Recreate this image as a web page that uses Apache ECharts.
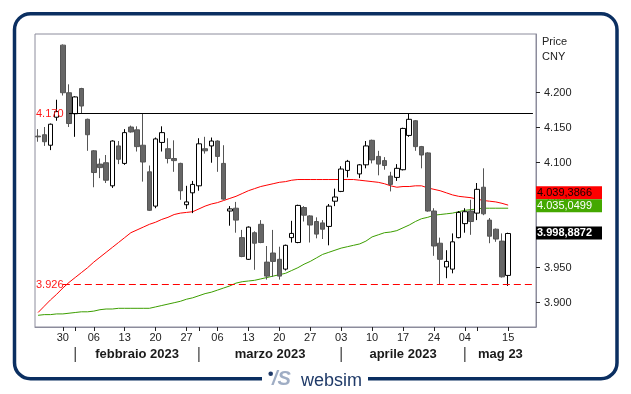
<!DOCTYPE html>
<html>
<head>
<meta charset="utf-8">
<script src="https://cdn.jsdelivr.net/npm/echarts@6/dist/echarts.min.js"></script>
<style>
html,body{margin:0;padding:0;background:#fff;}
#main{width:631px;height:394px;}
</style>
</head>
<body>
<div id="main"></div>
<script>
// ---------- DATA ----------
const dates = [
'2023-01-17','2023-01-18','2023-01-19','2023-01-20','2023-01-30','2023-01-31',
'2023-02-01','2023-02-02','2023-02-03','2023-02-06','2023-02-07','2023-02-08','2023-02-09','2023-02-10',
'2023-02-13','2023-02-14','2023-02-15','2023-02-16','2023-02-17','2023-02-20','2023-02-21','2023-02-22',
'2023-02-23','2023-02-24','2023-02-27','2023-02-28',
'2023-03-01','2023-03-02','2023-03-03','2023-03-06','2023-03-07','2023-03-08','2023-03-09','2023-03-10',
'2023-03-13','2023-03-14','2023-03-15','2023-03-16','2023-03-17','2023-03-20','2023-03-21','2023-03-22',
'2023-03-23','2023-03-24','2023-03-27','2023-03-28','2023-03-29','2023-03-30','2023-03-31',
'2023-04-03','2023-04-04','2023-04-05','2023-04-06','2023-04-07','2023-04-10','2023-04-11','2023-04-12',
'2023-04-13','2023-04-14','2023-04-17','2023-04-18','2023-04-19','2023-04-20','2023-04-21','2023-04-24',
'2023-04-25','2023-04-26','2023-04-27','2023-04-28',
'2023-05-04','2023-05-05','2023-05-08','2023-05-09','2023-05-10','2023-05-11','2023-05-12','2023-05-15',
'2023-05-16','2023-05-17','2023-05-18','2023-05-19'
];

const opens = [4.138,4.140,4.125,4.165,4.268,4.200,4.170,4.206,4.162,4.117,4.098,4.100,4.067,4.124,4.099,4.151,
4.147,4.125,4.087,4.038,4.129,4.120,4.106,4.099,4.040,4.057,4.067,4.120,4.124,4.131,4.099,4.031,
4.035,3.993,3.962,4.000,4.012,3.958,3.971,3.962,3.948,3.993,3.986,4.036,4.024,4.016,4.014,4.009,
4.045,4.059,4.089,null,4.084,4.097,4.132,4.109,4.103,4.081,4.079,4.090,4.139,4.160,4.123,4.114,
4.031,3.985,3.951,3.948,3.993,4.013,4.031,4.028,4.065,4.018,4.005,3.988,3.939];
const closes = [4.137,4.130,4.155,4.173,4.200,4.156,4.194,4.181,4.140,4.086,4.093,4.075,4.131,4.105,4.143,4.144,
4.123,4.101,4.032,4.134,4.143,4.106,4.103,4.060,4.044,4.069,4.127,4.117,4.131,4.109,4.048,4.034,
4.018,3.966,4.008,3.985,3.986,3.938,3.959,3.938,3.982,3.999,4.039,4.025,4.011,3.998,4.005,4.038,
4.051,4.091,4.102,null,4.097,4.124,4.104,4.098,4.096,4.069,4.092,4.149,4.162,4.123,4.111,4.031,
3.981,3.962,3.959,3.987,4.029,4.030,4.016,4.062,4.027,3.995,3.991,3.937,3.9989];
const lows = [4.130,4.124,4.118,4.160,4.196,4.151,4.137,4.170,4.117,4.065,4.078,4.071,4.064,4.098,4.097,4.143,
4.116,4.073,4.031,4.035,4.116,4.099,4.087,4.047,4.034,4.028,4.060,4.113,4.100,4.087,4.047,4.010,
4.000,3.965,3.961,3.947,3.985,3.933,3.937,3.933,3.946,3.986,3.985,4.016,3.986,3.992,3.991,3.982,
4.038,4.058,4.079,null,4.078,4.092,4.099,4.082,4.090,4.059,4.074,4.089,4.137,4.117,4.092,4.030,
3.967,3.926,3.935,3.942,3.992,4.000,3.997,4.018,4.025,3.985,3.987,3.936,3.924];
const highs = [4.148,4.151,4.156,4.190,4.269,4.212,4.195,4.207,4.163,4.118,4.106,4.111,4.132,4.131,4.148,4.153,
4.152,4.170,4.096,4.136,4.152,4.135,4.132,4.100,4.067,4.074,4.135,4.137,4.136,4.132,4.125,4.038,
4.044,4.004,4.009,4.002,4.018,3.981,4.004,3.980,3.983,4.017,4.040,4.038,4.025,4.022,4.018,4.041,
4.063,4.095,4.104,null,4.098,4.131,4.133,4.117,4.108,4.087,4.098,4.150,4.170,4.161,4.124,4.115,
4.035,3.993,3.975,3.999,4.031,4.035,4.047,4.071,4.092,4.021,4.006,3.999,4.000];

const maRed = [3.886,3.895,3.904,3.912,3.921,3.929,3.936,3.943,3.950,3.958,3.965,3.972,3.979,3.986,3.993,4.000,
4.004,4.008,4.012,4.015,4.019,4.022,4.026,4.028,4.029,4.030,4.034,4.038,4.041,4.043,4.046,4.049,
4.052,4.056,4.060,4.063,4.066,4.068,4.070,4.072,4.073,4.075,4.076,4.076,4.076,4.076,4.076,4.076,
4.076,4.076,4.076,4.076,4.075,4.074,4.073,4.072,4.070,4.067,4.065,4.066,4.066,4.067,4.067,4.064,
4.062,4.060,4.057,4.054,4.052,4.051,4.050,4.048,4.046,4.045,4.044,4.042,4.0394];
const maGreen = [3.882,3.883,3.883,3.884,3.884,3.885,3.886,3.887,3.887,3.888,3.890,3.891,3.891,3.892,3.892,3.892,
3.892,3.892,3.892,3.894,3.896,3.898,3.900,3.902,3.905,3.907,3.910,3.913,3.915,3.918,3.921,3.924,
3.928,3.930,3.931,3.932,3.934,3.936,3.938,3.940,3.942,3.946,3.950,3.955,3.959,3.964,3.969,3.972,
3.975,3.978,3.980,3.982,3.984,3.988,3.994,3.997,4.000,4.001,4.003,4.007,4.011,4.016,4.020,4.022,
4.025,4.026,4.027,4.028,4.030,4.032,4.033,4.034,4.035,4.035,4.035,4.035,4.0350];

const yTicks = [3.900,3.950,4.000,4.050,4.100,4.150,4.200];
const labelDays = ['2023-01-30','2023-02-06','2023-02-13','2023-02-20','2023-02-27','2023-03-06','2023-03-13',
'2023-03-20','2023-03-27','2023-04-03','2023-04-10','2023-04-17','2023-04-24','2023-05-04','2023-05-15'];
const extraTickDays = ['2023-02-01','2023-03-01','2023-05-08'];
const monthStarts = ['2023-02-01','2023-03-01','2023-04-03','2023-05-04'];
const monthLabels = ['febbraio 2023','marzo 2023','aprile 2023','mag 23'];
const resistance = 4.170;
const support = 3.926;
const boxLabels = ['4.039,3866','4.035,0499','3.998,8872'];

// ---------- CHART ----------
const FONT = '"Liberation Sans", Arial, sans-serif';
const candleData = dates.map((d, i) =>
  (i < opens.length && opens[i] != null) ? [opens[i], closes[i], lows[i], highs[i]] : '-');
const redData = dates.map((d, i) => i < maRed.length ? maRed[i] : '-');
const greenData = dates.map((d, i) => i < maGreen.length ? maGreen[i] : '-');
const tickSet = new Set(labelDays.concat(extraTickDays));
const labelSet = new Set(labelDays);
const lastIdx = dates.length - 1;

const chart = echarts.init(document.getElementById('main'), null, {renderer: 'canvas'});
const option = {
  animation: false,
  backgroundColor: '#ffffff',
  grid: {left: 35, top: 34, width: 501, height: 293, show: true, borderColor: '#8c8c9c', borderWidth: 1,
         containLabel: false, outerBoundsMode: 'none'},
  xAxis: {
    type: 'category', data: dates, boundaryGap: true,
    axisLine: {show: true, lineStyle: {color: '#8c8c9c', width: 1}},
    axisTick: {show: true, length: 4, alignWithLabel: true, lineStyle: {color: '#222'},
      interval: (idx, val) => tickSet.has(val)},
    axisLabel: {show: true, margin: 5, fontSize: 11, color: '#222', fontFamily: FONT,
      interval: (idx, val) => labelSet.has(val),
      formatter: v => v.slice(8)},
    splitLine: {show: false}
  },
  yAxis: {
    type: 'value', position: 'right', min: 3.8653, max: 4.2839, scale: true,
    axisLine: {show: true, lineStyle: {color: '#8c8c9c', width: 1}},
    axisTick: {show: true, length: 4, inside: false, lineStyle: {color: '#222'}, customValues: yTicks},
    axisLabel: {show: true, margin: 8, fontSize: 11, color: '#222', fontFamily: FONT,
      customValues: yTicks, formatter: v => v.toFixed(3)},
    splitLine: {show: false}
  },
  series: [
    {
      type: 'line', data: redData, showSymbol: false, symbol: 'none', z: 2,
      lineStyle: {color: '#ff0000', width: 1}
    },
    {
      type: 'line', data: greenData, showSymbol: false, symbol: 'none', z: 2,
      lineStyle: {color: '#3c9e00', width: 1}
    },
    {
      type: 'candlestick', data: candleData, barWidth: 5, z: 3,
      itemStyle: {color: '#ffffff', borderColor: '#000000', color0: '#666666', borderColor0: '#555555', borderWidth: 1},
      markLine: {
        symbol: 'none', silent: true, label: {show: false},
        data: [
          [{coord: [5, resistance], lineStyle: {color: '#000000', type: 'solid', width: 1}}, {coord: [lastIdx, resistance]}],
          [{coord: [4, support], lineStyle: {color: '#ff0000', type: [7, 4], width: 1}}, {coord: [lastIdx, support]}]
        ]
      }
    }
  ]
};
chart.setOption(option);

// ---------- Overlays positioned with the chart's own scales ----------
const P = (cat, v) => chart.convertToPixel({gridIndex: 0}, [cat, v]);
const gridRight = 536;
const g = [];

// frame
g.push({type: 'rect', z: 100, shape: {x: 14.5, y: 13.7, width: 602.5, height: 365, r: 16},
  style: {fill: null, stroke: '#0b2f61', lineWidth: 3.5}});
// logo gap + logo
g.push({type: 'rect', z: 101, shape: {x: 262, y: 370, width: 106, height: 18}, style: {fill: '#ffffff'}});
g.push({type: 'circle', z: 102, shape: {cx: 270.7, cy: 373.7, r: 2.3}, style: {fill: '#1f3a68'}});
g.push({type: 'text', z: 102, x: 272, y: 379, style: {text: '/S', font: 'italic bold 20px ' + FONT,
  fill: '#9fadc4', verticalAlign: 'middle', align: 'left'}});
g.push({type: 'text', z: 102, x: 301, y: 381, style: {text: 'websim', font: '18px ' + FONT,
  fill: '#1f3a68', verticalAlign: 'middle', align: 'left'}});

// Price / CNY
g.push({type: 'text', z: 50, x: 542, y: 42, style: {text: 'Price', font: '11px ' + FONT, fill: '#222', verticalAlign: 'middle'}});
g.push({type: 'text', z: 50, x: 542, y: 57, style: {text: 'CNY', font: '11px ' + FONT, fill: '#222', verticalAlign: 'middle'}});

// level labels
[[resistance, '4.170'], [support, '3.926']].forEach(([v, t]) => {
  const p = P(0, v);
  g.push({type: 'text', z: 60, x: 36, y: p[1], style: {text: t, font: '11px ' + FONT, fill: '#ff1a1a',
    verticalAlign: 'middle', align: 'left'}});
});

// month separators and labels
const sepX = monthStarts.map(d => P(d, 4)[0]);
sepX.forEach((x, k) => {
  g.push({type: 'line', z: 50, shape: {x1: x, y1: 347, x2: x, y2: 362}, style: {stroke: '#111', lineWidth: 1}});
  const xEnd = k + 1 < sepX.length ? sepX[k + 1] : gridRight;
  g.push({type: 'text', z: 50, x: (x + xEnd) / 2, y: 354.5, style: {text: monthLabels[k],
    font: 'bold 13px ' + FONT, fill: '#1a1a1a', align: 'center', verticalAlign: 'middle'}});
});

// value boxes
const n = maRed.length - 1;
const gy = P(n, maGreen[n])[1];
const by = P(n, closes[n])[1];
const greenTop = gy - 9;
const boxes = [
  {top: greenTop - 13, bg: '#ff0000', fg: '#1a0000', text: boxLabels[0], bold: false},
  {top: greenTop, bg: '#44a800', fg: '#ffffff', text: boxLabels[1], bold: false},
  {top: by - 7, bg: '#000000', fg: '#ffffff', text: boxLabels[2], bold: true}
];
boxes.forEach(b => {
  g.push({type: 'rect', z: 70, shape: {x: 536, y: b.top, width: 66, height: 13}, style: {fill: b.bg}});
  g.push({type: 'text', z: 71, x: 537, y: b.top + 6.5, style: {text: b.text,
    font: (b.bold ? 'bold ' : '') + '11px ' + FONT, fill: b.fg, verticalAlign: 'middle', align: 'left'}});
});

chart.setOption({graphic: {elements: g}});
</script>
</body>
</html>
